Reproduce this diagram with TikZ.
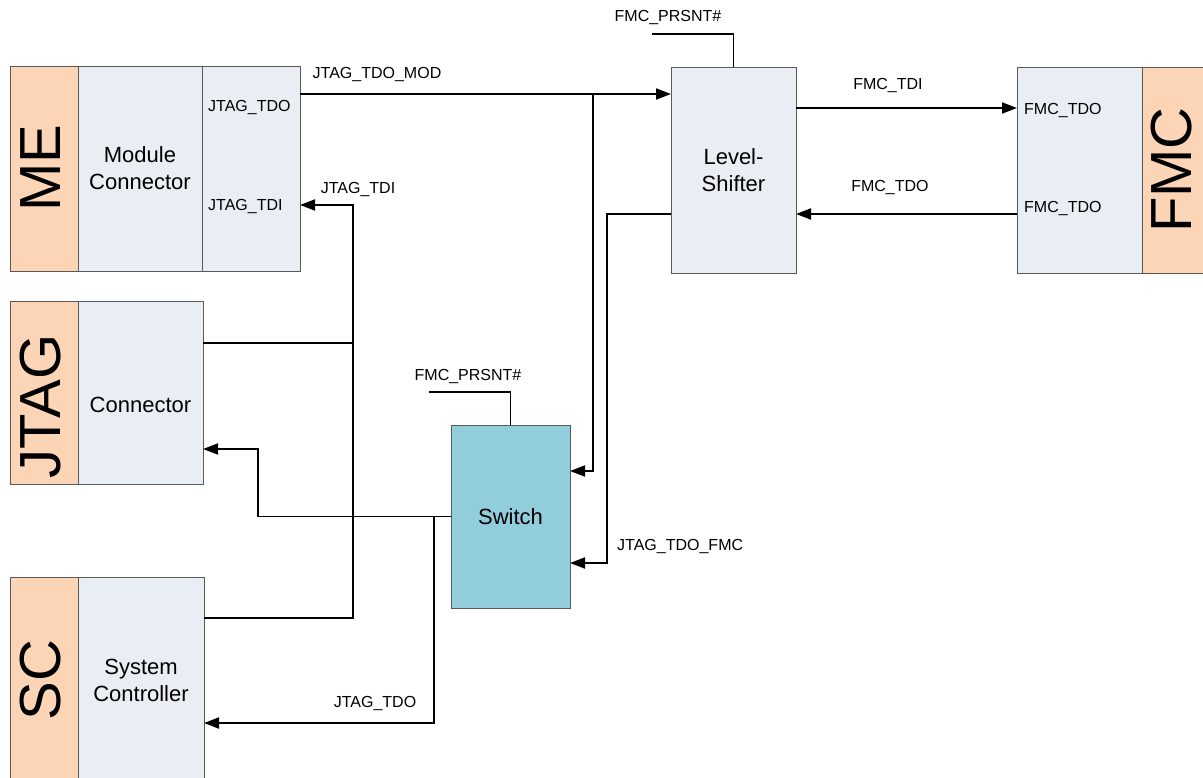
\documentclass[tikz,border=0pt]{standalone}
\usepackage{fontspec}
\setmainfont{Liberation Sans}
\usetikzlibrary{arrows.meta, positioning}
\definecolor{mepeach}{HTML}{FBD5B5}
\definecolor{panelbg}{HTML}{E9EDF4}
\definecolor{switchbg}{HTML}{92CDDC}
\definecolor{boxline}{HTML}{595959}
\tikzset{
	strip/.style={draw=boxline, fill=mepeach, line width=0.8pt, minimum width=68pt,
		inner sep=0pt, outer sep=0pt},
	panel/.style={draw=boxline, fill=panelbg, line width=0.8pt, inner sep=0pt, outer sep=0pt,
		align=center, font=\fontsize{22}{27}\selectfont},
	bigtxt/.style={rotate=90, inner sep=0pt, font=\fontsize{58}{60}\selectfont},
	sig/.style={inner sep=0pt, font=\fontsize{16}{19}\selectfont},
	wire/.style={line width=1.8pt, draw=black},
	marr/.style={-{Triangle[length=15pt, width=11pt]}, line width=1.8pt, draw=black}
}

\begin{document}
\begin{tikzpicture}[x=1pt, y=-1pt, node distance=0pt]
	\useasboundingbox (0,0) rectangle (1203,778);
	\node[strip, minimum height=205pt] (mestrip) at (44,168.5) {};
	\node[panel, minimum width=124pt, minimum height=205pt, right=of mestrip] (mecon) {Module\\Connector};
	\node[panel, minimum width=98pt, minimum height=205pt, right=of mecon] (mepins) {};
	\node[bigtxt] (metxt) at ([xshift=-3pt]mestrip.center) {ME};
	\node[sig, anchor=west] (pintdo) at (208,108) {JTAG\_TDO};
	\node[sig, anchor=west] (pintdi) at (208,207) {JTAG\_TDI};

	\node[strip, minimum height=183pt] (jtstrip) at (44,392.5) {};
	\node[panel, minimum width=125pt, minimum height=183pt, right=of jtstrip] (jtcon) {};
	\node[bigtxt] (jttxt) at ([xshift=-3pt, yshift=-14pt]jtstrip.center) {JTAG};
	\node[panel, draw=none, fill=none] (jtcontxt) at ([yshift=-12pt]jtcon.center) {Connector};

	\node[strip, minimum height=206pt] (scstrip) at (44,680) {};
	\node[panel, minimum width=126pt, minimum height=206pt, right=of scstrip] (sccon) {System\\Controller};
	\node[bigtxt] (sctxt) at ([xshift=-3pt]scstrip.center) {SC};

	\node[panel, fill=switchbg, minimum width=119pt, minimum height=183pt] (sw) at (510.5,516.5) {Switch};
	\node[panel, minimum width=125pt, minimum height=206pt] (ls) at (733.5,170) {Level-\\Shifter};

	\node[panel, minimum width=125pt, minimum height=206pt] (fmcpins) at (1079.5,170) {};
	\node[strip, minimum height=206pt, right=of fmcpins] (fmcstrip) {};
	\node[bigtxt] (fmctxt) at ([xshift=-4pt]fmcstrip.center) {FMC};
	\node[sig, anchor=west] (pinfa) at (1024,111) {FMC\_TDO};
	\node[sig, anchor=west] (pinfb) at (1024,209) {FMC\_TDO};

	\coordinate (modrow) at (0,94);
	\coordinate (tapmod) at (593,94);
	\coordinate (swtop) at (0,471);
	\coordinate (swbot) at (0,563);
	\coordinate (lsret) at (0,214);
	\coordinate (fmcbus) at (607,0);
	\coordinate (fmcin) at (0,108);
	\coordinate (prsa) at (652,34);
	\coordinate (prsb) at (429,392);
	\coordinate (tdirow) at (0,205);
	\coordinate (jtrow) at (0,343);
	\coordinate (scrow) at (0,618);
	\coordinate (tdibus) at (353,0);
	\coordinate (jtin) at (0,449);
	\coordinate (jtbus) at (258,0);
	\coordinate (tdotap) at (434,516.5);
	\coordinate (scin) at (0,723);

	\draw[marr] (mepins.east |- modrow) -- (ls.west |- modrow);
	\draw[marr] (tapmod) |- (sw.east |- swtop);
	\draw[marr] (ls.west |- lsret) -| (fmcbus |- swbot) -- (sw.east |- swbot);
	\draw[marr] (ls.east |- fmcin) -- (fmcpins.west |- fmcin);
	\draw[marr] (fmcpins.west |- lsret) -- (ls.east |- lsret);
	\draw[wire] (prsa) -| (ls.north);
	\draw[wire] (prsb) -| (sw.north);
	\draw[marr] (sccon.east |- scrow) -| (tdibus |- tdirow) -- (mepins.east |- tdirow);
	\draw[wire] (jtcon.east |- jtrow) -- (tdibus |- jtrow);
	\draw[marr] (sw.west) -| (jtbus |- jtin) -- (jtcon.east |- jtin);
	\draw[marr] (tdotap) |- (sccon.east |- scin);

	\node[sig] (lblmod) at (377,75) {JTAG\_TDO\_MOD};
	\node[sig] (lbltdi) at (358,190) {JTAG\_TDI};
	\node[sig] (lbltdo) at (375,704) {JTAG\_TDO};
	\node[sig, anchor=west] (lblfmc) at (617,547) {JTAG\_TDO\_FMC};
	\node[sig] (lblfti) at (888,86) {FMC\_TDI};
	\node[sig] (lblfto) at (890,188) {FMC\_TDO};
	\node[sig] (lblprsa) at (668,18) {FMC\_PRSNT\#};
	\node[sig] (lblprsb) at (468,377) {FMC\_PRSNT\#};
\end{tikzpicture}
\end{document}
